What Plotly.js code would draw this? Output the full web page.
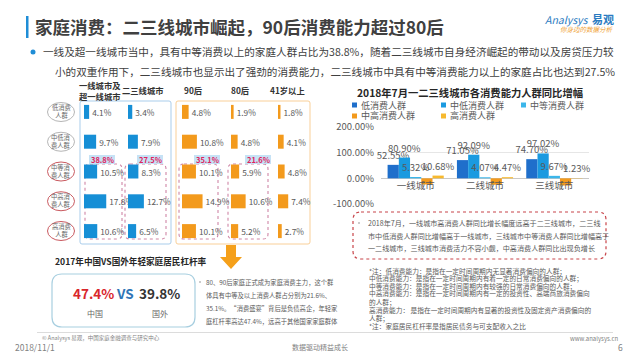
<!DOCTYPE html>
<html><head><meta charset="utf-8">
<script src="https://cdn.plot.ly/plotly-3.0.1.min.js"></script>
<style>html,body{margin:0;padding:0;background:#fff}#chart{width:640px;height:360px}</style>
</head><body><div id="chart"></div>
<script>
// ---------- data ----------
const rows = ['低消费人群','中低消费人群','中等消费人群','中高消费人群','高消费人群'];
const rowLabels = ['低消费<br>人群','中低消<br>费人群','中等消<br>费人群','中高消<br>费人群','高消费<br>人群'];
const colNames = ['一线城市及<br>超一线城市','二三线城市','90后','80后','41岁以上'];
const tier1 = [4.1, 9.7, 10.5, 17.8, 10.6];
const tier23 = [3.4, 7.9, 8.3, 12.7, 6.5];
const gen90 = [4.8, 10.8, 10.1, 14.9, 10.1];
const gen80 = [1.9, 4.8, 5.9, 10.6, 5.2];
const age41 = [1.8, 4.1, 4.8, 7.4, 2.7];
const sumLabels = ['38.8%','27.5%','35.1%','21.6%'];

const cities = ['一线城市','二线城市','三线城市'];
const growthSeries = ['低消费人群','中低消费人群','中等消费人群','中高消费人群','高消费人群'];
const gLow = [52.55, 71.05, 74.70];
const gMidLow = [80.90, 92.09, 97.02];
const gMid = [5.32, 4.07, 9.67];
const gMidHigh = [-24, -25, -28];
const gHigh = [10.68, 4.47, 1.23];
const growthTicks = [-100, 0, 100, 200];

const leverageChina = '47.4%';
const leverageAbroad = '39.8%';

// ---------- helpers ----------
const W = 640, H = 360;
const X = p => p / W;
const Y = p => 1 - p / H;
const FONT = '"Noto Sans CJK SC", "Noto Sans", sans-serif';
const GRAY = '#595959';
function ann(text, x, y, size, color, o) {
  o = o || {};
  return Object.assign({
    text: text, x: X(x), y: Y(y), xref: 'paper', yref: 'paper',
    xanchor: o.xa || 'left', yanchor: 'middle', showarrow: false,
    font: {family: FONT, size: size, color: color, weight: o.bold ? 'bold' : 'normal'},
    align: o.align || 'left'
  }, o.extra || {});
}
function rrect(x0, y0, x1, y1, r, line, fill) {
  const p = `M ${X(x0+r)},${Y(y0)} L ${X(x1-r)},${Y(y0)} Q ${X(x1)},${Y(y0)} ${X(x1)},${Y(y0+r)} ` +
    `L ${X(x1)},${Y(y1-r)} Q ${X(x1)},${Y(y1)} ${X(x1-r)},${Y(y1)} L ${X(x0+r)},${Y(y1)} ` +
    `Q ${X(x0)},${Y(y1)} ${X(x0)},${Y(y1-r)} L ${X(x0)},${Y(y0+r)} Q ${X(x0)},${Y(y0)} ${X(x0+r)},${Y(y0)} Z`;
  return {type: 'path', path: p, xref: 'paper', yref: 'paper', line: line, fillcolor: fill || 'rgba(0,0,0,0)', layer: 'below'};
}
function rect(x0, y0, x1, y1, color, line) {
  return {type: 'rect', xref: 'paper', yref: 'paper', x0: X(x0), x1: X(x1), y0: Y(y1), y1: Y(y0),
    fillcolor: color, line: line || {width: 0}, layer: 'below'};
}

// ---------- left matrix ----------
const BLUE = '#168fd6', ORANGE = '#f39a1c';
const colData = [tier1, tier23, gen90, gen80, age41];
const colStart = [84, 128, 182, 231, 278];
const colScale = [1.25, 1.25, 1.38, 1.38, 1.38];
const DW = 60;
const traces = [];
const layout = {
  width: W, height: H, margin: {l: 0, r: 0, t: 0, b: 0},
  paper_bgcolor: '#fff', plot_bgcolor: 'rgba(0,0,0,0)',
  showlegend: false, barmode: 'group', bargap: 0.19, bargroupgap: 0,
  font: {family: FONT},
  yaxis: {domain: [Y(246), Y(97)], range: [4.5, -0.5], visible: false, fixedrange: true},
  annotations: [], shapes: []
};
// drawn right-to-left so each value label sits above the next column's bars
for (let i = colData.length - 1; i >= 0; i--) {
  const vals = colData[i];
  const ax = i === 0 ? 'x' : 'x' + (i + 1);
  const key = i === 0 ? 'xaxis' : 'xaxis' + (i + 1);
  const end = Math.min(colStart[i] + DW, 639);
  layout[key] = {domain: [X(colStart[i]), X(end)], range: [0, (end - colStart[i]) / colScale[i]],
    anchor: 'y', visible: false, fixedrange: true};
  traces.push({
    type: 'bar', orientation: 'h', x: vals, y: rows, xaxis: ax, yaxis: 'y', width: 0.47,
    marker: {color: i < 2 ? BLUE : ORANGE},
    text: vals.map(v => v.toFixed(1) + '%'), textposition: 'outside', cliponaxis: false,
    constraintext: 'none', textfont: {family: FONT, size: 8.3, color: GRAY}, hoverinfo: 'skip'
  });
}

// ---------- right grouped bar ----------
const gColors = ['#1f6fcb', '#1a9ae0', '#3bb6ea', '#f39a1c', '#f7b92e'];
const gData = [gLow, gMidLow, gMid, gMidHigh, gHigh];
gData.forEach((vals, i) => {
  traces.push({
    type: 'bar', name: growthSeries[i], x: cities, y: vals, xaxis: 'x6', yaxis: 'y2',
    marker: {color: gColors[i]},
    text: vals.map(v => v.toFixed(2) + '%'), textposition: i === 3 ? 'none' : 'outside',
    cliponaxis: false, constraintext: 'none',
    textfont: {family: FONT, size: 9.5, color: GRAY}, hoverinfo: 'skip'
  });
});
layout.xaxis6 = {domain: [X(381), X(589)], anchor: 'free', position: Y(178.5), side: 'bottom',
  showgrid: false, showline: false, ticks: '', tickfont: {family: FONT, size: 9.5, color: GRAY}, fixedrange: true};
layout.yaxis2 = {domain: [Y(204), Y(127)], anchor: 'x6', range: [-100, 200],
  tickmode: 'array', tickvals: growthTicks, ticktext: growthTicks.map(v => v.toFixed(2) + '%'),
  tickfont: {family: FONT, size: 9.5, color: GRAY},
  gridcolor: '#e6e6e6', zeroline: true, zerolinecolor: '#c8c8c8', zerolinewidth: 1,
  showline: false, ticklabelstandoff: 6, fixedrange: true};

const A = layout.annotations, S = layout.shapes;

// ---------- header ----------
S.push(rect(26, 16, 28.5, 38, '#1f8dd6'));
A.push(ann('家庭消费：二三线城市崛起，90后消费能力超过80后', 33, 27, 17.5, '#404040', {bold: true}));
A.push(ann('<i>Analysys</i>', 543, 19, 10.5, '#2b7bc1'));
A.push(ann('易观', 590, 19, 11, '#2b7bc1', {bold: true}));
A.push(ann('<i>你身边的数据分析</i>', 558, 29, 6.5, '#f0a030'));
S.push({type: 'circle', xref: 'paper', yref: 'paper', x0: X(30.5), x1: X(35.5), y0: Y(54.5), y1: Y(49.5),
  fillcolor: '#1f8dd6', line: {width: 0}});
A.push(ann('一线及超一线城市当中，具有中等消费以上的家庭人群占比为38.8%，随着二三线城市自身经济崛起的带动以及房贷压力较', 41, 52, 10.6, '#404040'));
A.push(ann('小的双重作用下，二三线城市也显示出了强劲的消费能力，二三线城市中具有中等消费能力以上的家庭占比也达到27.5%', 53, 72, 10.6, '#404040'));

// ---------- left matrix decoration ----------
S.push(rrect(80, 101, 171, 244, 2, {color: '#a9cdeb', width: 1}));
S.push(rrect(176, 101, 310, 244, 2, {color: '#f9cf98', width: 1}));
A.push(ann(colNames[0], 100, 90, 8.3, '#333', {bold: true, xa: 'center', align: 'center'}));
A.push(ann(colNames[1], 143, 90, 8.3, '#333', {bold: true, xa: 'center'}));
A.push(ann(colNames[2], 193, 90, 8.3, '#333', {bold: true, xa: 'center'}));
A.push(ann(colNames[3], 240, 90, 8.3, '#333', {bold: true, xa: 'center'}));
A.push(ann(colNames[4], 287, 90, 8.3, '#333', {bold: true, xa: 'center'}));
const rowY = rows.map((r, i) => 112 + i * 29.75);
rowLabels.forEach((t, i) => {
  S.push({type: 'circle', xref: 'paper', yref: 'paper', x0: X(47.5), x1: X(74.5),
    y0: Y(rowY[i] + 9.5), y1: Y(rowY[i] - 9.5), fillcolor: '#fff',
    line: {color: i < 2 ? '#b5b5b5' : '#c9595f', width: 1}});
  A.push(ann(t, 61, rowY[i] - 0.5, 6.3, '#666', {xa: 'center', align: 'center'}));
});
const dashX = [[85, 122], [125, 166], [179, 218], [228, 268]];
dashX.forEach(d => S.push(rrect(d[0], 164, d[1], 239, 5, {color: '#cf86a6', width: 1.1, dash: 'dot'})));
const sumX = [102, 150, 207, 258];
sumLabels.forEach((t, i) => {
  S.push(rect(sumX[i] - 13, 155, sumX[i] + 13, 164, '#c6e2f5'));
  A.push(ann(t, sumX[i], 159.5, 7.5, '#e0245e', {bold: true, xa: 'center'}));
});
// arrow
S.push({type: 'path', xref: 'paper', yref: 'paper', fillcolor: '#f5a01a', line: {width: 0},
  path: `M ${X(226)},${Y(245)} L ${X(236)},${Y(245)} L ${X(236)},${Y(257)} L ${X(242)},${Y(257)} L ${X(231)},${Y(269)} L ${X(220)},${Y(257)} L ${X(226)},${Y(257)} Z`});

// ---------- leverage box ----------
A.push(ann('2017年中国VS国外年轻家庭居民杠杆率', 53, 261, 8.6, '#262626', {bold: true}));
S.push(rrect(52, 274, 195, 327, 10, {color: '#a8cfe0', width: 1.2}, '#fff'));
A.push(ann(leverageChina, 93, 293, 13.5, '#d9262b', {bold: true, xa: 'center'}));
A.push(ann('VS', 124.5, 293, 13.5, '#2e75b6', {bold: true, xa: 'center'}));
A.push(ann(leverageAbroad, 159, 293, 13.5, '#333', {bold: true, xa: 'center'}));
A.push(ann('中国', 95, 313, 8, '#666', {xa: 'center'}));
A.push(ann('国外', 159.5, 313, 8, '#666', {xa: 'center'}));
S.push({type: 'circle', xref: 'paper', yref: 'paper', x0: X(199), x1: X(201), y0: Y(283), y1: Y(281),
  fillcolor: '#bbb', line: {width: 0}});
['80、90后家庭正式成为家庭消费主力，这个群',
 '体具有中等及以上消费人群占分别为21.6%、',
 '35.1%。“消费盛宴”背后是负债高企，年轻家',
 '庭杠杆率高达47.4%，远高于其他国家家庭群体'].forEach((t, i) =>
  A.push(ann(t, 204, 282 + i * 13, 6.3, GRAY)));

// ---------- right chart decoration ----------
A.push(ann('2018年7月一二三线城市各消费能力人群同比增幅', 470, 92, 10.3, '#262626', {bold: true, xa: 'center'}));
const legPos = [[353, 105], [442, 105], [522, 105], [353, 116], [442, 116]];
growthSeries.forEach((s, i) => {
  const p = legPos[i];
  S.push(rect(p[0] - 1, p[1] - 2.5, p[0] + 4, p[1] + 2.5, gColors[i]));
  A.push(ann(s, p[0] + 6, p[1], 9, GRAY));
});
S.push(rrect(353, 212, 606, 259, 8, {color: '#c8454a', width: 1.2, dash: 'dot'}));
S.push({type: 'circle', xref: 'paper', yref: 'paper', x0: X(358), x1: X(360), y0: Y(224), y1: Y(222),
  fillcolor: '#bbb', line: {width: 0}});
['2018年7月，一线城市高消费人群同比增长幅度远高于二三线城市，二三线',
 '市中低消费人群同比增幅高于一线城市，三线城市中等消费人群同比增幅高于',
 '一二线城市，三线城市消费活力不容小觑，中高消费人群同比出现负增长'].forEach((t, i) =>
  A.push(ann(t, 366, 223 + i * 12.5, 7.1, GRAY)));
const notes = [
 '*注：低消费能力：是指在一定时间周期内无显著消费偏向的人群；',
 '中低消费能力：是指在一定时间周期内有着一定的日常消费偏向的人群；',
 '中等消费能力：是指在一定时间周期内有较强的日常消费偏向的人群；',
 '中高消费能力：是指在一定时间周期内有一定的投资性、高端商旅消费偏向',
 '的人群；',
 '高消费能力： 是指在一定时间周期内有显著的投资性及固定资产消费偏向的',
 '人群；',
 '*注：家庭居民杠杆率是指居民债务与可支配收入之比'];
const noteY = [270.7, 278.2, 285.5, 293.3, 301.5, 310, 317.7, 326];
notes.forEach((t, i) => A.push(ann(t, 367, noteY[i], 6.7, GRAY)));

// ---------- footer ----------
S.push({type: 'line', xref: 'paper', yref: 'paper', x0: X(37), x1: X(613), y0: Y(332.5), y1: Y(332.5),
  line: {color: '#dcdcdc', width: 1}});
A.push(ann('© Analysys 易观，中国家庭金融调查与研究中心', 40, 338, 5.5, '#7f7f7f'));
A.push(ann('www.analysys.cn', 568, 338, 6, '#7f7f7f'));
A.push(ann('2018/11/1', 13, 347, 8.5, '#7f7f7f'));
A.push(ann('数据驱动精益成长', 320, 347, 7, '#7f7f7f', {xa: 'center'}));
A.push(ann('6', 620, 347, 8.5, '#7f7f7f', {xa: 'center'}));

Plotly.newPlot('chart', traces, layout, {staticPlot: true, displayModeBar: false});
</script></body></html>
